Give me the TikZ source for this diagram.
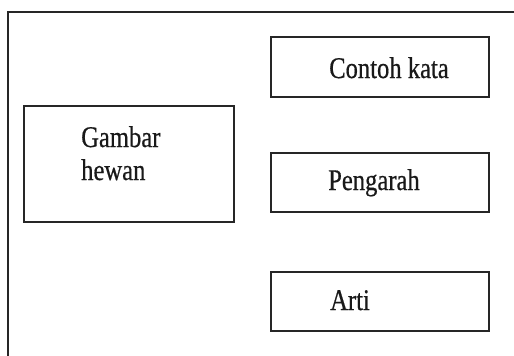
\documentclass[tikz,border=0pt]{standalone}
\usepackage{fontspec}
\setmainfont{Liberation Serif}
\newfontfamily\boxfont[FakeBold=0.6]{Liberation Serif}
\begin{document}
\begin{tikzpicture}[x=1pt,y=-1pt,
  panel/.style={draw=black!85,line width=1.3pt,minimum width=#1,inner sep=0pt},
  label/.style={anchor=base west,inner sep=0pt,text=black!90,font=\boxfont\fontsize{30}{33}\selectfont}]
  \useasboundingbox (0,0) rectangle (514,356);
  % outer frame (open to the right and bottom)
  \coordinate (frameTR) at (514,12);
  \coordinate (frameTL) at (8,12);
  \coordinate (frameBL) at (8,356);
  \draw[black!85,line width=1.3pt] (frameTR) -- (frameTL) -- (frameBL);
  % boxes
  \node[panel=210pt,minimum height=116pt] (gambar) at (129,164) {};
  \node[panel=218pt,minimum height=60pt] (contoh) at (380,67) {};
  \node[panel=218pt,minimum height=59pt] (pengarah) at (380,182.5) {};
  \node[panel=218pt,minimum height=59pt] (arti) at (380,301.5) {};
  % labels
  \node[label] (t1) at (81,147) {\scalebox{0.82}[1]{Gambar}};
  \node[label] (t2) at (81,180) {\scalebox{0.82}[1]{hewan}};
  \node[label] (t3) at (329,78) {\scalebox{0.82}[1]{Contoh kata}};
  \node[label] (t4) at (328,190) {\scalebox{0.82}[1]{Pengarah}};
  \node[label] (t5) at (330,310) {\scalebox{0.82}[1]{Arti}};
\end{tikzpicture}
\end{document}
